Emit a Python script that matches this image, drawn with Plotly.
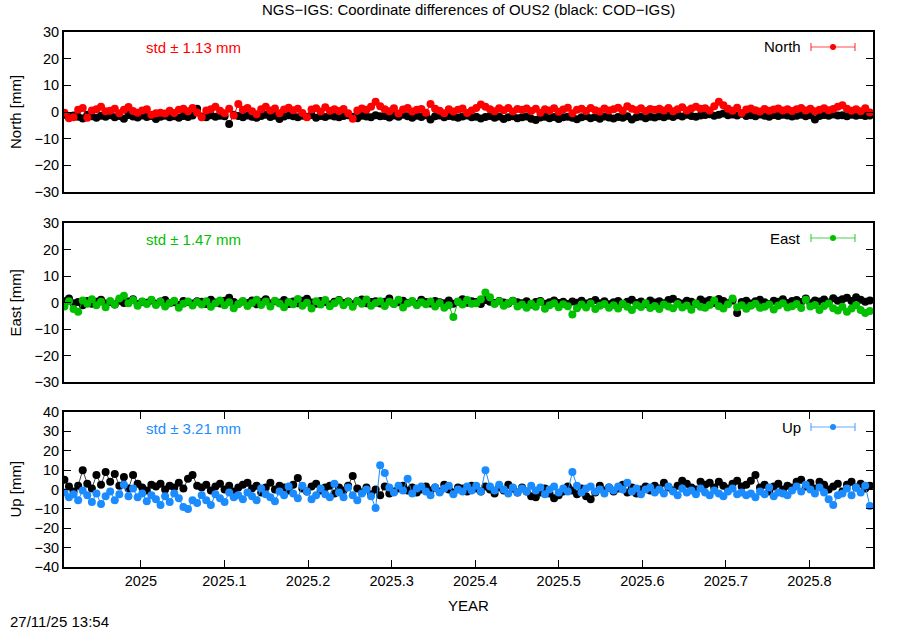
import plotly.graph_objects as go

# ---------------- data (mm), one value every 2 days ----------------
START_YEAR = 2024.9085
STEP_DAYS = 2

north_ngs = [
    -0.3, -2.3, -2.0, 0.8, 1.5, -2.2, 0.6, 1.0, 2.0, 0.3,
    0.5, 1.2, -0.5, 0.8, 1.9, 0.4, -0.3, 0.6, 1.0, -1.0,
    -0.5, -0.3, -0.6, 0.5, -0.4, 0.8, 1.2, 0.3, 1.5, -0.2,
    -2.0, 0.6, 1.0, 2.0, 0.5, -0.5, 1.2, -1.3, 3.0, 0.8,
    1.5, 0.3, -0.8, 1.0, 2.0, 0.6, 1.3, -0.5, 0.9, 1.6,
    0.7, 1.2, -0.4, -2.0, 0.9, 1.4, 0.2, 1.8, 0.5, 1.0,
    0.4, 1.1, -0.5, -2.5, 0.6, 1.3, 0.8, 2.0, 3.8, 2.2,
    1.0, 0.3, 1.4, -0.6, 0.9, 1.5, 0.2, 0.8, 1.1, -0.3,
    3.0, 1.2, 0.5, -0.5, 1.0, 0.2, 0.8, 1.3, -0.4, 0.6,
    1.5, 2.8, 2.0, 1.0, 0.3, 1.4, 0.7, 1.5, 0.2, 1.1,
    0.8, 1.3, 0.4, 1.2, -0.3, 1.0, 0.6, 1.4, 0.1, 0.9,
    1.6, -0.5, 0.8, 1.2, 0.4, 1.5, 0.7, 0.2, 1.3, 0.6,
    1.0, 1.6, 0.5, 2.2, 1.2, 0.7, 1.4, 0.4, 1.1, 0.8,
    1.2, 0.6, 1.5, 0.3, 1.0, 1.8, 0.6, 1.3, 2.0, 1.2,
    1.4, 0.6, 2.2, 3.8, 2.5, 1.2, 0.5, 1.6, -0.4, 0.9,
    1.3, 0.7, 0.2, 1.1, 0.5, 0.9, 1.3, 0.6, 1.0, 0.4,
    1.0, 1.5, 0.6, 1.2, 0.3, 0.8, 1.4, 0.7, 1.1, 2.0,
    2.5, 1.2, 0.5, 1.0, 0.3, 1.4, -0.2,
]
north_cod = [
    -1.0, -2.0, -1.3, -1.8, -2.4, -1.0, -1.6, -2.2, -1.4, -1.8,
    -1.2, -2.0, -1.5, -2.5, -1.1, -1.7, -2.1, -1.3, -1.9, -1.5,
    -2.6, -1.8, -1.4, -2.0, -1.6, -2.2, -1.5, -1.9, -1.3, 1.2,
    -1.7, -2.0, -1.2, -1.8, -1.4, -1.6, -4.5, -1.0, -1.5, -2.0,
    -1.3, -1.8, -2.2, -1.5, -1.0, -1.9, -1.4, -2.6, -1.7, -1.2,
    -1.6, -2.0, -1.4, -1.8, -1.1, -2.2, -1.5, -1.9, -1.3, -1.7,
    -2.0, -1.5, -1.2, -1.8, -2.3, -1.4, -1.7, -2.0, -1.2, -1.6,
    -1.5, -2.1, -1.3, -1.8, -1.0, -1.6, -2.2, -1.4, -1.9, -1.2,
    -2.8, -1.6, -1.3, -2.0, -1.5, -1.8, -2.2, -1.7, -1.3, -2.0,
    -1.8, -2.4, -1.9, -1.5, -2.2, -1.7, -2.6, -2.0, -1.6, -2.3,
    -2.0, -1.7, -2.5, -3.0, -2.1, -1.8, -2.3, -1.9, -2.6, -2.0,
    -1.8, -2.2, -2.7, -2.0, -1.6, -2.3, -1.9, -2.5, -1.7, -2.1,
    -2.4, -1.9, -2.2, -1.6, -2.8, -2.0, -1.7, -2.3, -1.8, -2.1,
    -1.6, -2.0, -1.4, -1.9, -1.2, -1.7, -1.0, -1.5, -1.8, -1.3,
    -1.1, -0.8, -1.4, -1.0, -0.6, -1.2, -0.9, -1.3, -0.7, -1.5,
    -1.2, -1.6, -0.9, -1.4, -1.8, -1.1, -1.5, -1.0, -1.3, -1.7,
    -1.4, -1.0, -1.6, -1.2, -2.8, -1.5, -1.1, -1.4, -0.9, -1.3,
    -1.2, -1.6, -1.0, -1.4, -1.1, -1.5, -1.3,
]
east_ngs = [
    -1.5, 0.5, -2.5, -3.5, 0.8, -0.5, 1.2, -1.0, 0.3, -1.8,
    0.6, -0.8, 1.5, 2.5, -0.3, 0.9, -1.2, 0.4, -0.6, 1.0,
    -0.9, 0.3, -1.5, -0.2, 0.7, -2.0, -0.5, 0.4, -1.1, 0.2,
    -0.8, 0.5, -1.6, -0.3, 0.8, -1.0, 0.1, -2.2, -0.6, 0.6,
    -1.3, -0.2, 1.0, -0.9, 0.4, -1.5, 0.7, -0.4, -1.8, 0.2,
    -0.7, 1.3, -1.2, -0.1, -2.3, 0.5, -0.8, 0.9, -1.4, -0.3,
    0.8, -1.0, 0.2, -1.6, 0.6, -0.5, 1.1, -1.2, -0.2, 0.5,
    -1.3, 0.3, -0.6, 1.0, -1.9, -0.4, 0.6, -1.0, 0.1, -0.7,
    0.4, -1.5, -0.2, -2.0, -1.0, -5.5, 0.3, -0.8, 0.9, -0.5,
    -0.3, 1.2, 3.8, 2.0, -0.6, 0.5, -1.2, -0.2, 0.6, -1.5,
    -0.8, -2.0, -0.5, -1.6, 0.2, -2.4, -1.0, -0.3, -1.8, -0.7,
    -1.4, -4.5, -2.2, -0.8, -1.9, -0.4, -2.5, -1.2, -0.6, -2.0,
    -1.0, -2.3, -0.5, -1.6, -2.8, -0.9, -1.7, -0.3, -2.1, -1.3,
    -2.5, -0.8, -1.5, -2.2, -0.6, -1.9, -1.1, -2.7, -0.4, -1.6,
    -2.0, -0.9, 0.8, -1.4, -2.3, -0.7, 1.5, -1.8, -1.0, -2.4,
    -1.2, -0.5, -2.0, -1.6, -0.8, -2.6, -1.1, -0.3, -1.9, -1.4,
    -0.6, -2.1, 1.0, -1.5, -0.9, -2.8, -1.3, -0.4, -2.2, -3.0,
    -1.6, -3.5, -2.3, -1.0, -2.8, -4.0, -3.2,
]
east_cod = [
    0.5, 1.5, -0.3, 0.2, -1.0, 0.6, -0.5, 0.3, 1.0, -0.4,
    0.2, -0.8, 0.7, -0.2, 0.4, 1.2, -0.6, 0.3, -0.1, 0.8,
    -0.5, 0.4, 0.9, -0.3, 0.1, -0.9, 0.6, 0.2, -0.4, 0.5,
    0.3, -0.6, 1.0, 0.0, -0.4, 0.7, 1.8, 0.2, -0.5, 0.4,
    -0.2, 0.8, -0.7, 0.3, 1.2, -0.4, 0.5, -0.1, 0.9, -0.6,
    0.4, -0.3, 0.7, 1.4, 0.0, -0.5, 0.6, 0.2, -0.8, 0.3,
    0.9, -0.2, 0.4, -0.7, 0.6, 1.1, -0.3, 0.2, 0.5, -0.4,
    0.3, 1.5, -0.5, 0.1, 0.7, -0.2, 0.4, -0.6, 1.0, 0.2,
    -0.4, 0.6, 0.1, -0.3, 0.8, -0.5, 0.3, 1.2, -0.1, 0.5,
    0.2, -0.6, 0.9, 0.3, -0.2, 0.6, 0.0, -0.4, 0.7, 0.1,
    -0.3, 0.5, -0.8, 0.2, 0.6, -0.5, 0.1, 0.8, -0.2, 0.3,
    -0.6, 0.4, -0.1, 0.7, -0.4, 0.2, 0.9, -0.3, 0.5, -0.7,
    0.1, 0.6, -0.5, 0.3, 1.0, -0.2, 0.4, -0.6, 0.8, 0.0,
    0.5, -0.3, 0.9, 1.4, 0.2, -0.4, 0.7, 0.3, -0.5, 1.1,
    0.4, 0.9, -0.2, 1.3, 0.6, -0.3, 0.8, -4.0, 0.2, 0.7,
    -0.4, 0.5, 1.0, 0.1, -0.6, 0.7, 0.3, 1.2, -0.2, 0.6,
    0.9, 0.2, 1.5, -0.3, 0.8, 0.4, 1.1, 0.0, 1.6, 0.7,
    1.2, 1.8, 0.6, 2.0, 1.0, 0.3, 0.8,
]
up_ngs = [
    -1.5, -4.0, -2.5, -5.5, -0.5, -3.0, -6.5, -2.0, -7.5, -3.5,
    -1.0, -5.5, -2.5, 2.5, -3.5, 0.5, -4.0, -2.0, -6.0, -3.0,
    -5.0, -8.0, -3.5, -6.5, -2.0, -4.5, -9.0, -10.0, -5.5, -7.0,
    -3.0, -5.5, -8.0, -2.5, -4.5, -6.5, -1.5, -4.0, -3.0, -5.0,
    -1.5, -3.5, -5.5, 0.5, -2.5, -4.0, -6.0, -1.0, -3.0, 1.5,
    -2.0, -4.5, 2.0, -1.0, -5.0, -3.0, 0.5, -2.5, -4.0, 3.0,
    -1.5, -4.0, 1.0, -3.0, -5.5, -2.0, 0.0, -3.5, -9.5, 12.5,
    8.5, 1.0, -1.5, 2.0, -0.5, 5.5, -2.0, 0.5, 1.5, -1.0,
    -3.0, 1.0, -1.5, 0.5, 2.0, -2.5, 0.0, -1.0, 1.5, -0.5,
    2.0, -1.0, 10.0, 1.5, -0.5, 2.5, 0.0, -2.0, 1.0, -1.5,
    0.5, -1.0, 2.0, -0.5, 1.0, -2.5, 0.0, 1.5, -1.5, 0.5,
    -1.0, 9.0, 2.0, -1.5, 0.5, 1.5, -1.0, 0.0, -2.0, 1.0,
    -0.5, 1.5, 0.0, 3.5, -1.0, 0.5, -2.5, 0.0, 1.0, -1.5,
    0.0, -2.0, 1.5, -1.0, -3.0, 0.5, -1.5, -0.5, -2.5, 0.5,
    -1.5, -3.0, -0.5, -2.0, -3.5, -1.0, 0.5, -2.5, -1.5, -3.0,
    -2.0, -4.0, -1.0, -2.5, 1.0, -3.5, -1.5, -2.0, -3.0, -0.5,
    1.5, -1.0, 2.5, 0.0, -2.0, 1.0, -1.5, -5.0, -8.0, -3.0,
    -2.0, 0.5, -3.0, 1.0, -1.5, 2.0, -8.5,
]
up_cod = [
    5.0, 1.5, -1.0, 2.0, 10.0, 3.0, 0.5, 7.5, 2.5, 9.0,
    4.0, 8.0, 2.0, 6.5, 0.5, 7.5, 3.0, 1.0, -0.5, 2.5,
    1.5, 3.0, 0.0, 2.0, 1.0, 3.5, 0.5, 5.5, 7.5, 2.0,
    1.0, 2.5, -0.5, 1.5, 3.0, 0.0, 2.0, -1.0, 1.0, 2.5,
    3.5, 0.5, 2.0, -1.5, 1.0, 3.5, 0.0, 2.0, 1.0, -0.5,
    2.5, 6.0, 0.5, -1.0, 1.5, 3.0, -0.5, 1.0, 2.0, -2.0,
    1.0, -0.5, 2.0, 7.0, 0.5, -1.5, 1.0, -2.5, 0.0, -3.0,
    1.5, -2.0, -1.0, 0.5, 2.0, -0.5, 1.0, -1.5, 0.0, 1.5,
    -0.5, 1.0, -1.0, 2.5, 0.0, -1.5, 1.0, 0.5, -1.0, 2.0,
    0.5, -1.0, 1.5, 0.0, -2.0, 1.0, -0.5, 2.5, 0.5, -1.5,
    1.0, -1.0, -3.5, -4.0, -1.5, 0.5, -2.0, -4.5, -3.0, -1.0,
    1.5, -0.5, -2.5, 0.5, -3.5, -5.0, -1.5, 2.0, -0.5, 1.0,
    -1.0, 0.5, 2.5, -1.5, 1.0, -2.0, 0.0, 1.5, -0.5, 2.0,
    0.5, 3.5, 1.0, -0.5, 2.0, 4.5, 3.0, 1.0, 0.0, 4.0,
    2.5, 3.5, 1.0, 4.0, 2.0, 0.5, 3.0, 4.5, 1.5, 2.5,
    4.5, 7.5, 1.0, 2.5, -1.0, 1.5, 3.0, 0.0, 2.0, 1.0,
    4.0, 5.0, 1.5, 3.5, 0.5, 4.0, 2.5, 0.0, 1.5, 3.0,
    -1.0, 2.5, 4.0, 1.0, 3.0, 0.5, 2.0,
]

panel_names = ["North", "East", "Up"]
panel_std = ["1.13", "1.47", "3.21"]
panel_colors = ["#ff0000", "#00c000", "#1a8cff"]
panel_ngs = [north_ngs, east_ngs, up_ngs]
panel_cod = [north_cod, east_cod, up_cod]
panel_ranges = [[-30, 30], [-30, 30], [-40, 40]]
x_range = [2024.908, 2025.876]
x_tickvals = [2025.0, 2025.1, 2025.2, 2025.3, 2025.4, 2025.5, 2025.6, 2025.7, 2025.8]
x_ticktext = ["2025", "2025.1", "2025.2", "2025.3", "2025.4", "2025.5", "2025.6", "2025.7", "2025.8"]

W, H = 900, 630
years = [START_YEAR + i * STEP_DAYS / 365.25 for i in range(len(north_ngs))]

boxes = [(32, 192), (223, 382), (412, 567)]
X0, X1 = 64, 873

FONT = "Liberation Sans, Arial, Helvetica, sans-serif"
TICK_FS = 14.5
TEXT_FS = 15
MARKER = 8

fig = go.Figure()
layout = dict(
    width=W, height=H,
    margin=dict(l=0, r=0, t=0, b=0, pad=0, autoexpand=False),
    paper_bgcolor="white", plot_bgcolor="white",
    showlegend=False,
    font=dict(family=FONT, size=TICK_FS, color="black"),
)
annotations = []
shapes = []

for i in range(3):
    sfx = "" if i == 0 else str(i + 1)
    xa, ya = "x" + sfx, "y" + sfx
    col = panel_colors[i]
    fig.add_trace(go.Scatter(
        x=years, y=panel_cod[i], xaxis=xa, yaxis=ya, mode="lines+markers",
        line=dict(color="rgba(0,0,0,0.75)", width=1),
        marker=dict(color="black", size=MARKER),
    ))
    fig.add_trace(go.Scatter(
        x=years, y=panel_ngs[i], xaxis=xa, yaxis=ya, mode="lines+markers",
        line=dict(color=col, width=1),
        marker=dict(color=col, size=MARKER),
    ))
    top, bot = boxes[i]
    last = (i == 2)
    layout["xaxis" + sfx] = dict(
        domain=[X0 / W, X1 / W], anchor=ya, range=x_range, automargin=False,
        showgrid=False, zeroline=False,
        showline=True, linecolor="black", linewidth=2,
        mirror="ticks" if last else True,
        ticks="inside" if last else "", ticklen=7, tickwidth=1, tickcolor="black",
        tickvals=x_tickvals, ticktext=x_ticktext,
        showticklabels=last, tickfont=dict(size=TICK_FS),
    )
    layout["yaxis" + sfx] = dict(
        domain=[1 - bot / H, 1 - top / H], anchor=xa, range=panel_ranges[i],
        dtick=10, tick0=0, automargin=False,
        showgrid=False, zeroline=False,
        showline=True, linecolor="black", linewidth=2, mirror="ticks",
        ticks="inside", ticklen=7, tickwidth=1, tickcolor="black",
        tickfont=dict(size=TICK_FS),
    )
    annotations.append(dict(
        text=f"{panel_names[i]} [mm]", textangle=-90, xref="paper", yref="paper",
        x=15 / W, y=1 - (top + bot) / 2 / H, showarrow=False,
        font=dict(size=TEXT_FS), xanchor="center", yanchor="middle",
    ))
    annotations.append(dict(
        text=f"std ± {panel_std[i]} mm", xref="paper", yref="paper",
        x=144 / W, y=1 - (top + 16) / H, showarrow=False, xanchor="left",
        yanchor="middle", font=dict(size=TEXT_FS, color=col),
    ))
    annotations.append(dict(
        text=panel_names[i], xref="paper", yref="paper",
        x=803 / W, y=1 - (top + 15) / H, showarrow=False, xanchor="right",
        yanchor="middle", font=dict(size=TEXT_FS),
    ))
    ly = 1 - (top + 15) / H
    shapes.append(dict(type="line", xref="paper", yref="paper",
                       x0=811 / W, x1=855 / W, y0=ly, y1=ly,
                       line=dict(color=col, width=1.2), opacity=0.7))
    for xx in (811, 855):
        shapes.append(dict(type="line", xref="paper", yref="paper",
                           x0=xx / W, x1=xx / W, y0=ly - 4 / H, y1=ly + 4 / H,
                           line=dict(color=col, width=1.2), opacity=0.7))
    shapes.append(dict(type="circle", xref="paper", yref="paper",
                       x0=830 / W, x1=836 / W, y0=ly - 3 / H, y1=ly + 3 / H,
                       fillcolor=col, line=dict(color=col, width=0)))

annotations.append(dict(
    text="NGS−IGS: Coordinate differences of OUS2 (black: COD−IGS)",
    xref="paper", yref="paper", x=468 / W, y=1 - 10 / H, showarrow=False,
    xanchor="center", yanchor="middle", font=dict(size=TEXT_FS),
))
annotations.append(dict(
    text="YEAR", xref="paper", yref="paper", x=468 / W, y=1 - 605 / H,
    showarrow=False, xanchor="center", yanchor="middle", font=dict(size=TEXT_FS),
))
annotations.append(dict(
    text="27/11/25 13:54", xref="paper", yref="paper", x=8 / W, y=1 - 621 / H,
    showarrow=False, xanchor="left", yanchor="middle", font=dict(size=TEXT_FS),
))

layout["annotations"] = annotations
layout["shapes"] = shapes
fig.update_layout(**layout)

POST_JS = (
    "document.body.style.margin='0';"
    "document.body.style.padding='0';"
    "document.body.style.overflow='hidden';"
)
fig.write_html("out.html", post_script=POST_JS, config={"displayModeBar": False})
